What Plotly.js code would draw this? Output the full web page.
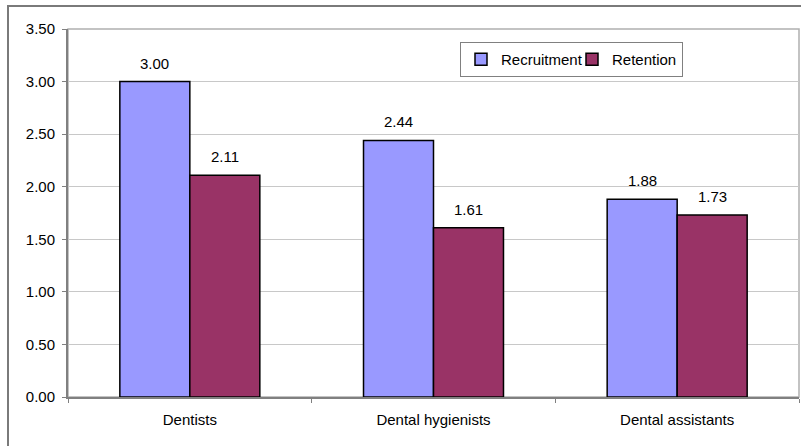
<!DOCTYPE html>
<html>
<head>
<meta charset="utf-8">
<script src="https://cdn.plot.ly/plotly-3.0.1.min.js"></script>
<style>
  html, body { margin: 0; padding: 0; background: #ffffff; }
  #chart { width: 801px; height: 446px; }
</style>
</head>
<body>
<div id="chart"></div>
<script>
// Staff groups and their average scores
const categories = ["Dentists", "Dental hygienists", "Dental assistants"];
const recruitment = [3.00, 2.44, 1.88];
const retention = [2.11, 1.61, 1.73];
const seriesNames = ["Recruitment", "Retention"];
const yTicks = [0, 0.5, 1, 1.5, 2, 2.5, 3, 3.5];

const W = 801, H = 446;
const M = { l: 68, r: 2, t: 29, b: 49 };
const plotW = W - M.l - M.r, plotH = H - M.t - M.b;
const px2x = p => (p - M.l) / plotW;
const px2y = p => 1 - (p - M.t) / plotH;

const FONT = { family: "Liberation Sans, Arial, sans-serif", size: 15, color: "#000000" };
const barLine = { color: "#000000", width: 1.5 };

const traces = [
  { type: "bar", name: seriesNames[0], x: categories, y: recruitment,
    legendwidth: 66,
    marker: { color: "#9999FF", line: barLine } },
  { type: "bar", name: seriesNames[1], x: categories, y: retention,
    marker: { color: "#993366", line: barLine } }
];

// value labels above each bar (left bar of a pair shifted left, right bar right)
const annotations = [];
[recruitment, retention].forEach((vals, s) => {
  vals.forEach((v, i) => {
    annotations.push({
      x: categories[i], y: v, xref: "x", yref: "y",
      text: v.toFixed(2), showarrow: false,
      xanchor: "center", yanchor: "bottom",
      xshift: s === 0 ? -35 : 35, yshift: 8,
      font: FONT
    });
  });
});

const layout = {
  width: W, height: H,
  margin: M,
  paper_bgcolor: "#ffffff",
  plot_bgcolor: "#ffffff",
  font: FONT,
  barmode: "group",
  bargap: 0.4255,
  bargroupgap: 0,
  showlegend: true,
  legend: {
    orientation: "h",
    x: px2x(460), y: px2y(42), xanchor: "left", yanchor: "top",
    bordercolor: "#808080", borderwidth: 1, bgcolor: "#ffffff",
    font: FONT, itemwidth: 30, traceorder: "normal"
  },
  xaxis: {
    type: "category",
    showgrid: false,
    showline: true, linecolor: "#808080", linewidth: 2,
    ticks: "outside", tickson: "boundaries", ticklen: 4, tickcolor: "#808080",
    ticklabelstandoff: 8,
    tickfont: FONT,
    fixedrange: true
  },
  yaxis: {
    range: [0, 3.5],
    tickvals: yTicks,
    tickformat: ".2f",
    showgrid: true, gridcolor: "#c8c8c8", gridwidth: 1,
    zeroline: false,
    showline: true, linecolor: "#808080", linewidth: 2,
    ticks: "outside", ticklen: 4, tickcolor: "#808080",
    ticklabelstandoff: 4,
    tickfont: FONT,
    fixedrange: true
  },
  annotations: annotations,
  shapes: [
    // plot area frame (top and right edges)
    { type: "rect", xref: "paper", yref: "paper", x0: 0, x1: 1, y0: 0, y1: 1,
      line: { color: "#b0b0b0", width: 1.5 }, layer: "below" },
    // outer chart frame
    { type: "rect", xref: "paper", yref: "paper",
      x0: px2x(8), x1: px2x(812), y0: px2y(460), y1: px2y(6),
      line: { color: "#7a7a7a", width: 2 } }
  ]
};

Plotly.newPlot("chart", traces, layout, { displayModeBar: false, staticPlot: true });
</script>
</body>
</html>
